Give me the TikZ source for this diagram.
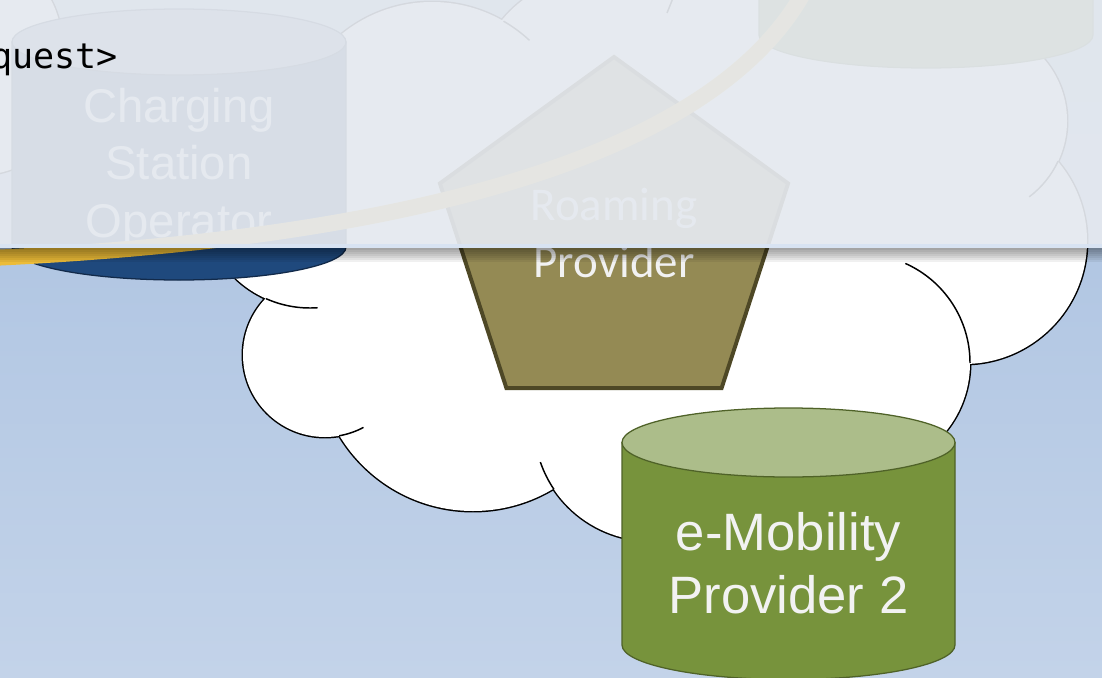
\documentclass[tikz,border=0pt]{standalone}
\usepackage{fontspec}
\setmainfont{Liberation Sans}
\setmonofont{DejaVu Sans Mono}
\newfontfamily\carlitofont{Carlito}
\usepackage{tikz}
\usetikzlibrary{shapes.geometric}

\definecolor{bgtop}{RGB}{167,191,223}
\definecolor{bgbot}{RGB}{195,211,233}
\definecolor{csoblue}{RGB}{31,73,125}
\definecolor{csolight}{RGB}{120,145,180}
\definecolor{csoline}{RGB}{18,42,74}
\definecolor{rpolive}{RGB}{148,138,84}
\definecolor{rpline}{RGB}{78,72,38}
\definecolor{empgreen}{RGB}{119,147,60}
\definecolor{emplight}{RGB}{172,189,138}
\definecolor{empline}{RGB}{79,98,40}
\definecolor{bandgold}{RGB}{236,188,56}
\definecolor{veilgrey}{RGB}{229,233,239}
\definecolor{veilrim}{RGB}{216,227,242}

\newcommand\csofont{\fontsize{33.6}{40.9}\selectfont}
\newcommand\rpfont{\carlitofont\fontsize{33.4}{40.5}\selectfont}
\newcommand\empfont{\fontsize{37.4}{44.8}\selectfont}
\newcommand\reqfont{\ttfamily\fontsize{24.9}{30}\selectfont}

\begin{document}
\begin{tikzpicture}[x=0.025cm,y=-0.025cm]
\tikzstyle{every node}+=[inner sep=0pt]
\tikzstyle{lobe}=[draw=black,line width=2.1pt]
\tikzstyle{tick}=[black,line width=1.05pt]
\tikzstyle{lbl}=[text=white!95!black,align=center]
\tikzstyle{csobody}=[fill=csoblue,draw=csoline,line width=0.9pt]
\tikzstyle{csotop}=[fill=csolight,draw=csoline,line width=0.9pt]
\tikzstyle{empbody}=[fill=empgreen,draw=empline,line width=0.9pt]
\tikzstyle{emptop}=[fill=emplight,draw=empline,line width=0.9pt]
\tikzstyle{rpgon}=[regular polygon,regular polygon sides=5,minimum size=9.15cm,fill=rpolive,draw=rpline,line width=2.8pt]
\tikzstyle{band}=[draw=bandgold,line width=11.4pt]
\tikzstyle{veil}=[fill=veilgrey,fill opacity=0.93]
\useasboundingbox (0,0) rectangle (1102,677);
\clip (0,0) rectangle (1102,677);
\shade[top color=bgtop,bottom color=bgbot] (0,0) rectangle (1102,677);

\foreach \x/\y/\r in {-20/85/90,-35/45/97,140/160/95,310/200/108,325/355/82,473/355/156,651/424/117,861/363/109,964/241/123,972/121/95,860/-20/75,705/-45/100,595/96/120,432/145/143}
  \draw[lobe] (\x,\y) circle[radius=\r];
\fill[white] (-20,85) -- (140,160) -- (310,200) -- (325,355) -- (473,355) -- (651,424) -- (861,363) -- (964,241) -- (972,121) -- (860,-20) -- (705,-45) -- (595,96) -- (432,145) -- cycle;
\foreach \x/\y/\r in {-20/85/90,-35/45/97,140/160/95,310/200/108,325/355/82,473/355/156,651/424/117,861/363/109,964/241/123,972/121/95,860/-20/75,705/-45/100,595/96/120,432/145/143}
  \fill[white] (\x,\y) circle[radius=\r];
\draw[tick] (310,200) ++(114:108) arc[start angle=114,end angle=86,radius=108];
\draw[tick] (325,355) ++(80:82) arc[start angle=80,end angle=62,radius=82];
\draw[tick] (651,424) ++(146:117) arc[start angle=146,end angle=161,radius=117];
\draw[tick] (861,363) ++(0:109) arc[start angle=0,end angle=-66,radius=109];
\draw[tick] (972,121) ++(25:95) arc[start angle=25,end angle=53,radius=95];
\draw[tick] (432,145) ++(-60:143) arc[start angle=-60,end angle=-47,radius=143];
\draw[tick] (673,-2) -- (667,13);

\filldraw[csobody] (12,42) -- (12,247) arc[start angle=180,end angle=0,x radius=167,y radius=33] -- (346,42) -- cycle;
\filldraw[csotop] (179,42) ellipse[x radius=167,y radius=33];
\node[lbl,font=\csofont] (cso) at (179,167.6) {Charging\\Station\\Operator};

\node[rpgon] (rp) at (614,240) {};
\node[lbl,font=\rpfont] (rptext) at (614,233.3) {Roaming\\Provider};

\filldraw[empbody] (759,-170) -- (759,35) arc[start angle=180,end angle=0,x radius=167,y radius=33] -- (1093,-170) -- cycle;

\filldraw[empbody] (622,442.5) -- (622,645) arc[start angle=180,end angle=0,x radius=166.5,y radius=34.5] -- (955,442.5) -- cycle;
\filldraw[emptop] (788.5,442.5) ellipse[x radius=166.5,y radius=34.5];
\node[lbl,font=\empfont] (emp) at (788.5,562.7) {e-Mobility\\Provider 2};

\draw[band] (-10,258) .. controls (380,240) and (710,165) .. (805,-10);

\fill[veil] (-5,-5) rectangle (1107,244);
\fill[veilrim] (-5,244) rectangle (1107,248);
\foreach \k in {1,...,7}
  \fill[black,opacity=0.06] (-5,248) rectangle (1107,{248+2*\k});
\node[font=\reqfont,anchor=base west] (req) at (-9,68) {quest>};
\end{tikzpicture}
\end{document}
